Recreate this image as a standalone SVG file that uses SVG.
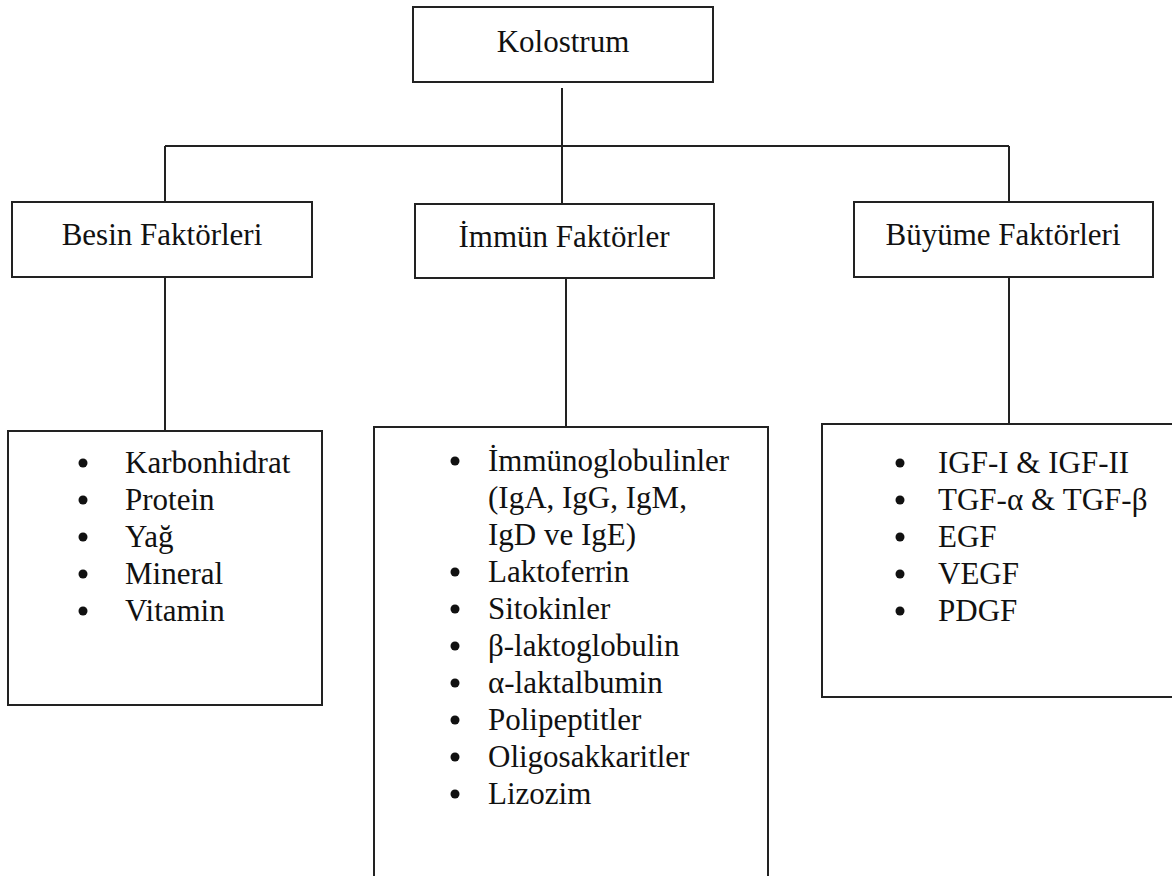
<svg xmlns="http://www.w3.org/2000/svg" width="1172" height="876" viewBox="0 0 1172 876">
<style>
.box{fill:#fff;stroke:#222;stroke-width:2}
.ln{stroke:#222;stroke-width:2;fill:none}
.b{fill:#111}
.c{text-anchor:middle}
</style>
<rect width="1172" height="876" fill="#fff"/>
<g id="connectors">
<line class="ln" x1="562" y1="88" x2="562" y2="146"/>
<line class="ln" x1="165" y1="146" x2="1009" y2="146"/>
<line class="ln" x1="165" y1="146" x2="165" y2="202"/>
<line class="ln" x1="562" y1="146" x2="562" y2="204"/>
<line class="ln" x1="1009" y1="146" x2="1009" y2="202"/>
<line class="ln" x1="165" y1="277" x2="165" y2="431"/>
<line class="ln" x1="566" y1="278" x2="566" y2="427"/>
<line class="ln" x1="1009" y1="276" x2="1009" y2="424"/>
</g>
<g id="nodes" font-family="Liberation Serif" font-size="31" fill="#111">
<g id="kolostrum">
<rect class="box" x="413" y="7" width="300" height="75"/>
<text class="c" x="563" y="52">Kolostrum</text>
</g>
<g id="besin">
<rect class="box" x="12" y="202" width="300" height="75"/>
<text class="c" x="162" y="245">Besin Faktörleri</text>
</g>
<g id="immun">
<rect class="box" x="415" y="204" width="299" height="74"/>
<text class="c" x="564" y="247">İmmün Faktörler</text>
</g>
<g id="buyume">
<rect class="box" x="854" y="202" width="299" height="75"/>
<text class="c" x="1003" y="245">Büyüme Faktörleri</text>
</g>
<g id="besin-list">
<rect class="box" x="8" y="431" width="314" height="274"/>
<circle class="b" cx="83" cy="463" r="4.5"/><text x="125" y="473">Karbonhidrat</text>
<circle class="b" cx="83" cy="500" r="4.5"/><text x="125" y="510">Protein</text>
<circle class="b" cx="83" cy="537" r="4.5"/><text x="125" y="547">Yağ</text>
<circle class="b" cx="83" cy="574" r="4.5"/><text x="125" y="584">Mineral</text>
<circle class="b" cx="83" cy="611" r="4.5"/><text x="125" y="621">Vitamin</text>
</g>
<g id="immun-list">
<rect class="box" x="374" y="427" width="394" height="470"/>
<circle class="b" cx="455" cy="461" r="4.5"/><text x="488" y="471">İmmünoglobulinler</text>
<text x="488" y="508">(IgA, IgG, IgM,</text>
<text x="488" y="545">IgD ve IgE)</text>
<circle class="b" cx="455" cy="572" r="4.5"/><text x="488" y="582">Laktoferrin</text>
<circle class="b" cx="455" cy="609" r="4.5"/><text x="488" y="619">Sitokinler</text>
<circle class="b" cx="455" cy="646" r="4.5"/><text x="488" y="656">β-laktoglobulin</text>
<circle class="b" cx="455" cy="683" r="4.5"/><text x="488" y="693">α-laktalbumin</text>
<circle class="b" cx="455" cy="720" r="4.5"/><text x="488" y="730">Polipeptitler</text>
<circle class="b" cx="455" cy="757" r="4.5"/><text x="488" y="767">Oligosakkaritler</text>
<circle class="b" cx="455" cy="794" r="4.5"/><text x="488" y="804">Lizozim</text>
</g>
<g id="buyume-list">
<rect class="box" x="822" y="424" width="360" height="273"/>
<circle class="b" cx="900" cy="463" r="4.5"/><text x="938" y="473">IGF-I &amp; IGF-II</text>
<circle class="b" cx="900" cy="500" r="4.5"/><text x="938" y="510">TGF-α &amp; TGF-β</text>
<circle class="b" cx="900" cy="537" r="4.5"/><text x="938" y="547">EGF</text>
<circle class="b" cx="900" cy="574" r="4.5"/><text x="938" y="584">VEGF</text>
<circle class="b" cx="900" cy="611" r="4.5"/><text x="938" y="621">PDGF</text>
</g>
</g>
</svg>
